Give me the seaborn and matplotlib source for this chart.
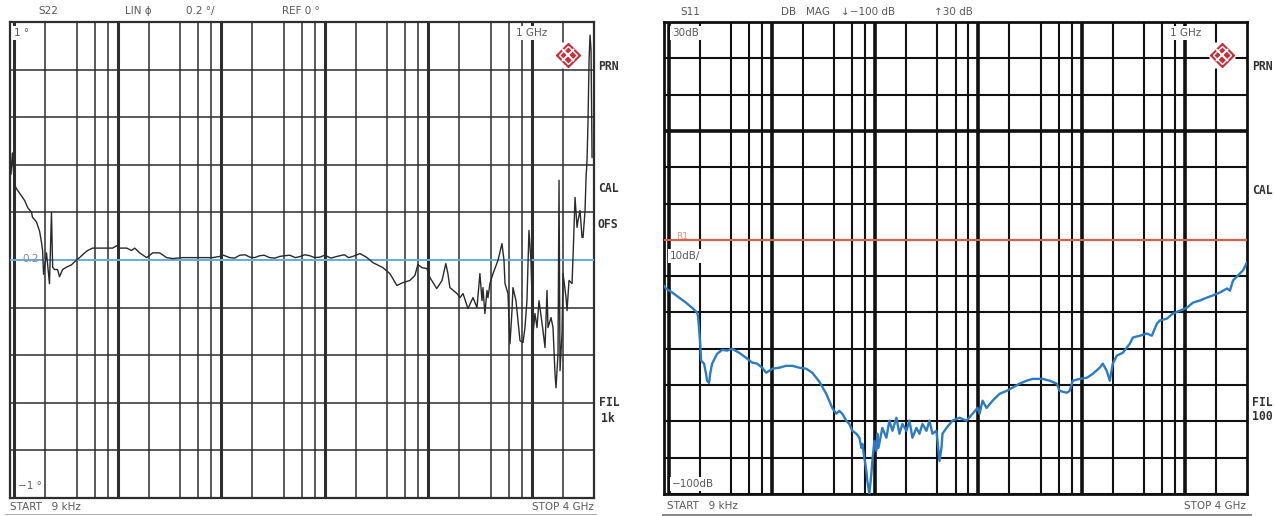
import matplotlib
matplotlib.use("Agg")
import matplotlib.pyplot as plt
from matplotlib.patches import Rectangle
from matplotlib.ticker import NullLocator
import seaborn as sns

# ---------------- data ----------------
# Left screen: S22, LIN phase, 0.2 per division, REF 0
s22_freq_mhz = [0.0090, 0.0093, 0.0096, 0.0100, 0.0105, 0.0113, 0.0126, 0.0135, 0.0147, 0.0150,
                0.0164, 0.0176, 0.0184, 0.0188, 0.0192, 0.0205, 0.0219, 0.0229, 0.0235, 0.0245,
                0.0262, 0.0274, 0.0293, 0.0320, 0.0358, 0.0400, 0.0428, 0.0479, 0.0512, 0.0572,
                0.0668, 0.0781, 0.0893, 0.0976, 0.104, 0.122, 0.136, 0.146, 0.163, 0.190,
                0.218, 0.254, 0.297, 0.340, 0.425, 0.531, 0.620, 0.828, 0.967, 1.05,
                1.21, 1.35, 1.51, 1.70, 1.89, 2.10, 2.36, 2.60, 2.94, 3.30,
                3.68, 4.10, 4.60, 5.20, 5.74, 6.40, 7.18, 8.00, 8.97, 10.0,
                11.5, 13.1, 15.5, 17.0, 18.7, 20.0, 21.9, 25.5, 29.2, 36.5,
                42.6, 49.8, 56.9, 66.5, 74.4, 79.5, 86.9, 97.1, 104, 121,
                136, 148, 155, 162, 190, 203, 217, 242, 271, 296,
                316, 331, 338, 353, 370, 378, 395, 423, 472, 516,
                540, 552, 590, 617, 645, 659, 705, 737, 771, 824,
                861, 900, 941, 984, 1030, 1076, 1125, 1177, 1258, 1286,
                1345, 1406, 1437, 1537, 1607, 1680, 1718, 1796, 1837, 1878,
                1963, 2008, 2147, 2195, 2295, 2453, 2508, 2623, 2742, 2804,
                2931, 3066, 3134, 3277, 3351, 3426, 3503, 3583, 3663, 3745,
                3830]
s22_value = [0.50, 0.36, 0.45, 0.32, 0.30, 0.28, 0.25, 0.22, 0.20, 0.18,
             0.16, 0.12, 0.07, 0.04, -0.06, 0.03, -0.10, 0.20, -0.03, -0.04,
             -0.04, -0.07, -0.04, -0.03, -0.02, 0.00, 0.01, 0.03, 0.04, 0.05,
             0.05, 0.05, 0.05, 0.06, 0.05, 0.05, 0.04, 0.05, 0.03, 0.01,
             0.03, 0.03, 0.01, 0.006, 0.01, 0.01, 0.01, 0.01, 0.015, 0.02,
             0.01, 0.008, 0.02, 0.022, 0.012, 0.01, 0.018, 0.02, 0.01, 0.008,
             0.015, 0.018, 0.02, 0.01, 0.014, 0.022, 0.018, 0.01, 0.012, 0.02,
             0.008, 0.015, 0.022, 0.01, 0.015, 0.02, 0.027, 0.011, -0.011, -0.032,
             -0.057, -0.107, -0.095, -0.086, -0.065, -0.019, -0.032, -0.036, -0.074, -0.12,
             -0.086, -0.015, -0.057, -0.116, -0.141, -0.158, -0.141, -0.204, -0.158, -0.20,
             -0.057, -0.171, -0.116, -0.225, -0.128, -0.158, -0.099, -0.057, -0.002, 0.069,
             -0.002, -0.099, -0.141, -0.352, -0.213, -0.116, -0.171, -0.255, -0.339, -0.347,
             -0.284, -0.171, 0.124, -0.002, -0.309, -0.225, -0.284, -0.171, -0.267, -0.297,
             -0.368, -0.128, -0.284, -0.242, -0.284, -0.478, -0.537, -0.394, 0.335, -0.465,
             -0.309, -0.057, -0.158, -0.213, -0.086, -0.099, 0.011, 0.263, 0.137, 0.166,
             0.208, 0.095, 0.095, 0.208, 0.347, 0.419, 0.587, 0.84, 0.945, 0.882,
             0.43]
s22_ref = 0.0

# Right screen: S11, DB MAG, -100 dB .. 30 dB, 10 dB per division
s11_freq_mhz = [0.0090, 0.0094, 0.0108, 0.0126, 0.0147, 0.0168, 0.0188, 0.0192, 0.0201, 0.0206,
                0.0220, 0.0230, 0.0235, 0.0246, 0.0252, 0.0263, 0.0294, 0.0329, 0.0368, 0.0411,
                0.0481, 0.0563, 0.0643, 0.0719, 0.0804, 0.0879, 0.101, 0.118, 0.137, 0.157,
                0.184, 0.215, 0.246, 0.287, 0.336, 0.384, 0.420, 0.449, 0.480, 0.525,
                0.562, 0.601, 0.657, 0.703, 0.735, 0.751, 0.786, 0.821, 0.840, 0.878,
                0.918, 0.939, 0.982, 1.027, 1.050, 1.075, 1.174, 1.284, 1.373, 1.469,
                1.606, 1.717, 1.836, 2.007, 2.147, 2.296, 2.510, 2.685, 2.871, 3.139,
                3.357, 3.589, 3.925, 4.197, 4.389, 4.487, 4.909, 5.612, 6.561, 7.674,
                8.774, 9.81, 10.26, 10.97, 12.0, 13.72, 16.04, 18.76, 21.45, 25.07,
                29.33, 33.54, 41.93, 49.04, 57.33, 61.31, 71.7, 76.66, 81.98, 95.85,
                112.1, 128.2, 149.8, 160.3, 175.2, 187.4, 200.4, 219.1, 250.6, 293.0,
                313.3, 366.4, 428.3, 478.8, 535.7, 572.7, 669.6, 765.6, 895.3, 1047,
                1197, 1400, 1637, 1872, 2189, 2559, 2736, 2926, 3271, 3659,
                4000]
s11_db = [-42.6, -43.4, -44.5, -45.9, -47.3, -48.7, -50.0, -50.9, -57.8, -63.3,
          -64.1, -66.9, -68.8, -69.4, -66.9, -64.1, -61.4, -60.3, -60.5, -60.0,
          -61.1, -62.5, -63.8, -64.1, -65.2, -66.6, -65.5, -65.2, -64.7, -64.7,
          -65.2, -65.5, -66.6, -69.0, -72.4, -76.3, -77.9, -77.1, -77.9, -79.8,
          -80.7, -82.6, -83.4, -84.5, -87.3, -86.2, -90.1, -93.6, -96.4, -100.0,
          -94.5, -90.9, -85.4, -88.1, -83.4, -87.3, -81.8, -84.5, -79.8, -82.6,
          -79.0, -83.4, -80.7, -82.6, -79.8, -84.5, -81.8, -83.4, -80.7, -82.6,
          -79.8, -83.4, -82.6, -90.9, -87.3, -83.4, -81.8, -79.8, -79.0, -79.8,
          -77.9, -76.3, -77.9, -74.3, -76.3, -74.3, -72.4, -71.6, -70.7, -69.6,
          -68.8, -68.3, -68.3, -68.8, -69.6, -71.6, -72.1, -71.6, -68.8, -68.3,
          -68.0, -66.9, -65.2, -64.1, -66.1, -68.8, -64.1, -61.9, -61.1, -58.6,
          -56.9, -56.4, -55.8, -56.4, -53.1, -52.2, -51.7, -50.3, -49.5, -48.7,
          -47.3, -46.7, -45.9, -45.3, -44.5, -43.4, -44.0, -41.2, -39.8, -38.4,
          -36.2]
s11_ref_db = -30

x_start_mhz, x_stop_mhz = 0.009, 4000
decades_mhz = [0.01, 0.1, 1, 10, 100, 1000]
grid_mult = [2, 4, 6, 8]
s22_yticks = [-1, -0.8, -0.6, -0.4, -0.2, 0, 0.2, 0.4, 0.6, 0.8, 1]
s11_yticks = list(range(-100, 31, 10))

# ---------------- figure ----------------
sns.set_style("white")
plt.rcParams['font.family'] = ['DejaVu Sans']

fig = plt.figure(figsize=(12.76, 5.16), dpi=100)
fig.patch.set_facecolor("white")
axL = fig.add_axes([9.5 / 1276, 18 / 516, 584.5 / 1276, 476 / 516])
axR = fig.add_axes([664 / 1276, 22 / 516, 583 / 1276, 472 / 516])

minor_grid = [d * m for d in decades_mhz for m in grid_mult if d * m < x_stop_mhz]


def style(ax, ylim, yticks, color, lw_major, lw_minor, lw_h, spine_lw):
    ax.set_xscale("log")
    ax.set_xlim(x_start_mhz, x_stop_mhz)
    ax.set_ylim(*ylim)
    ax.set_xticks(decades_mhz)
    ax.set_xticks(minor_grid, minor=True)
    ax.set_yticks(yticks)
    ax.yaxis.set_minor_locator(NullLocator())
    ax.grid(which="major", axis="x", color=color, lw=lw_major)
    ax.grid(which="minor", axis="x", color=color, lw=lw_minor)
    ax.grid(which="major", axis="y", color=color, lw=lw_h)
    ax.tick_params(which="both", length=0, labelbottom=False, labelleft=False)
    ax.set_axisbelow(True)
    for s in ax.spines.values():
        s.set_color(color)
        s.set_linewidth(spine_lw)
    ax.set_xlabel("")
    ax.set_ylabel("")


style(axL, (-1, 1), s22_yticks, "#2e2e2e", 2.2, 1.1, 1.1, 1.6)
style(axR, (-100, 30), s11_yticks, "#111111", 2.6, 1.5, 1.5, 2.0)

# traces
sns.lineplot(x=s22_freq_mhz, y=s22_value, ax=axL, color="#2a2a2a", lw=1.0,
             estimator=None, sort=False, zorder=4)
axL.axhline(s22_ref, color="#6cb0e0", lw=1.4, zorder=3)

axR.axhline(0, color="#111111", lw=2.6, zorder=1)
axR.axhline(s11_ref_db, color="#d8604f", lw=1.5, zorder=3)
sns.lineplot(x=s11_freq_mhz, y=s11_db, ax=axR, color="#2d7cc1", lw=1.7,
             estimator=None, sort=False, zorder=4)

# ---------------- texts ----------------
grey = "#5a5a5a"
dark = "#333333"
box = dict(facecolor="white", edgecolor="none", pad=1.2)
fs = 7.5


def ftext(x, y, s, ha="left", **kw):
    fig.text(x / 1276, 1 - y / 516, s, ha=ha, va="center", fontsize=fs, color=grey, **kw)


# headers
ftext(38, 11, "S22")
ftext(125, 11, "LIN ϕ")
ftext(186, 11, "0.2 °/")
ftext(282, 11, "REF 0 °")
ftext(680, 12, "S11")
ftext(781, 12, "DB")
ftext(806, 12, "MAG")
ftext(841, 12, "↓−100 dB")
ftext(934, 12, "↑30 dB")

# footers
ftext(10, 507, "START   9 kHz")
ftext(594, 507, "STOP 4 GHz", ha="right")
ftext(667, 506, "START   9 kHz")
ftext(1246, 506, "STOP 4 GHz", ha="right")

# softkey labels
side = dict(fontsize=8.3, color=dark, fontweight="bold", family="DejaVu Sans Mono",
            ha="left", va="center")
for (x, y, s) in [(598, 67, "PRN"), (598, 188, "CAL"), (598, 225, "OFS"),
                  (599, 403, "FIL"), (601, 418, "1k"),
                  (1252, 67, "PRN"), (1252, 190, "CAL"), (1252, 403, "FIL"),
                  (1252, 417, "100")]:
    fig.text(x / 1276, 1 - y / 516, s, **side)

# labels inside the screens
axL.text(0.0077, 0.977, "1 °", transform=axL.transAxes, fontsize=fs, color=grey,
         va="center", bbox=box, zorder=5)
axL.text(0.8666, 0.977, "1 GHz", transform=axL.transAxes, fontsize=fs, color=grey,
         va="center", bbox=box, zorder=5)
axL.text(0.0145, 0.025, "−1 °", transform=axL.transAxes, fontsize=fs, color=grey,
         va="center", bbox=box, zorder=5)
axL.text(0.022, 0.503, "0.2", transform=axL.transAxes, fontsize=fs, color="#8a8a8a",
         va="center", zorder=5)

axR.text(0.0137, 0.977, "30dB", transform=axR.transAxes, fontsize=fs, color=grey,
         va="center", bbox=box, zorder=5)
axR.text(0.868, 0.977, "1 GHz", transform=axR.transAxes, fontsize=fs, color=grey,
         va="center", bbox=box, zorder=5)
axR.text(0.0206, 0.545, "R1", transform=axR.transAxes, fontsize=6.5, color="#e39080",
         va="center", zorder=5)
axR.text(0.0103, 0.504, "10dB/", transform=axR.transAxes, fontsize=fs, color=grey,
         va="center", bbox=box, zorder=5)
axR.text(0.0137, 0.021, "−100dB", transform=axR.transAxes, fontsize=fs, color=grey,
         va="center", bbox=box, zorder=5)

# R&S logos
for ax, (lx, ly) in [(axL, (0.9555, 0.9307)), (axR, (0.957, 0.930))]:
    ax.plot([lx], [ly], marker="s", ms=19, mfc="white", mec="none",
            transform=ax.transAxes, zorder=5, clip_on=False)
    ax.plot([lx], [ly], marker="D", ms=12.5, mfc="#c6303b", mec="#c6303b", mew=1,
            transform=ax.transAxes, zorder=6, clip_on=False)
    ax.plot([lx], [ly], marker="D", ms=9.0, mfc="none", mec="white", mew=1.0,
            transform=ax.transAxes, zorder=7, clip_on=False)
    ax.plot([lx], [ly], marker="x", ms=8.6, mec="white", mew=1.4,
            transform=ax.transAxes, zorder=7, clip_on=False)

# faint bottom edges of the screen prints
fig.add_artist(Rectangle((5 / 1276, 1 / 516), 592 / 1276, 1.5 / 516,
                         transform=fig.transFigure, color="#b0b0b0", lw=0))
fig.add_artist(Rectangle((662 / 1276, 0), 590 / 1276, 2.5 / 516,
                         transform=fig.transFigure, color="#8a8a8a", lw=0))

fig.savefig("out.png", dpi=100, facecolor="white")
